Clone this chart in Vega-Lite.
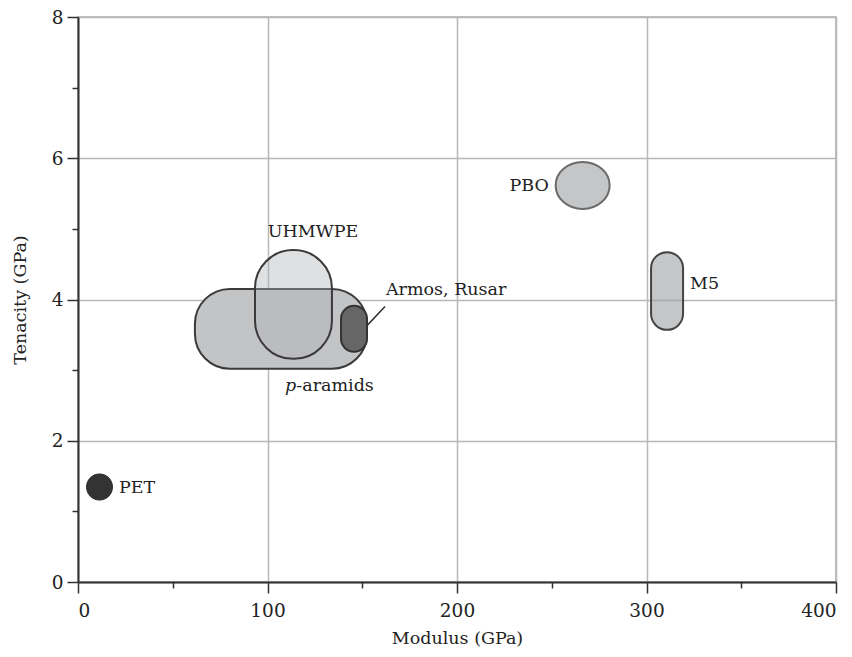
{
  "$schema": "https://vega.github.io/schema/vega-lite/v6.json",
  "width": 758,
  "height": 565,
  "autosize": {"type": "none"},
  "padding": {"left": 78, "top": 17, "right": 16, "bottom": 75},
  "config": {
    "view": {"stroke": "#aaaaaa", "strokeWidth": 1.5},
    "font": "DejaVu Serif",
    "text": {"font": "DejaVu Serif", "fontSize": 17.5, "fill": "#222222"}
  },
  "datasets": {
    "shapes": [
      {"name": "p-aramids", "x1": 61.7, "x2": 152.5, "y1": 3.02, "y2": 4.15},
      {"name": "UHMWPE", "x1": 93.4, "x2": 134, "y1": 3.16, "y2": 4.70},
      {"name": "Armos, Rusar", "x1": 138.8, "x2": 152.5, "y1": 3.26, "y2": 3.91},
      {"name": "M5", "x1": 302.4, "x2": 319.3, "y1": 3.57, "y2": 4.67},
      {"name": "PET", "x1": 4.5, "x2": 18.2, "y1": 1.16, "y2": 1.53}
    ],
    "ellipses": [
      {"name": "PBO", "x": 266.3, "y": 5.615}
    ],
    "labels": [
      {"text": "UHMWPE", "x": 124, "y": 4.96, "group": "center"},
      {"text": "Armos, Rusar", "x": 162.5, "y": 4.14, "group": "left"},
      {"text": "-aramids", "x": 115.2, "y": 2.78, "group": "left"},
      {"text": "p", "x": 115.2, "y": 2.78, "group": "italic"},
      {"text": "PBO", "x": 248.5, "y": 5.61, "group": "right"},
      {"text": "M5", "x": 323, "y": 4.22, "group": "left"},
      {"text": "PET", "x": 21.6, "y": 1.33, "group": "left"}
    ],
    "leader": [
      {"x1": 152.5, "y1": 3.63, "x2": 162, "y2": 3.9}
    ]
  },
  "resolve": {"axis": {"x": "independent", "y": "independent"}},
  "layer": [
    {
      "data": {"name": "shapes"},
      "transform": [{"filter": "datum.name === 'p-aramids'"}],
      "mark": {"type": "rect", "cornerRadius": 35, "fill": "#c3c4c6", "stroke": "#3a3a3a", "strokeWidth": 2},
      "encoding": {
        "x": {
          "field": "x1", "type": "quantitative",
          "scale": {"domain": [0, 400], "nice": false},
          "axis": {
            "title": "Modulus (GPa)", "values": [0, 100, 200, 300, 400], "orient": "bottom",
            "grid": true, "gridColor": "#b8b8b8", "gridWidth": 1.5,
            "domainColor": "#333333", "domainWidth": 2,
            "tickColor": "#333333", "tickWidth": 1.5, "tickSize": 11,
            "labelFontSize": 18.5, "labelColor": "#222222", "labelPadding": 8, "labelFont": "DejaVu Serif",
            "titleFontSize": 17.5, "titleFontWeight": "normal", "titleColor": "#222222", "titlePadding": 10, "titleFont": "DejaVu Serif"
          }
        },
        "x2": {"field": "x2"},
        "y": {
          "field": "y1", "type": "quantitative",
          "scale": {"domain": [0, 8], "nice": false},
          "axis": {
            "title": "Tenacity (GPa)", "values": [0, 2, 4, 6, 8], "orient": "left",
            "grid": true, "gridColor": "#b8b8b8", "gridWidth": 1.5,
            "domainColor": "#333333", "domainWidth": 2,
            "tickColor": "#333333", "tickWidth": 1.5, "tickSize": 11,
            "labelFontSize": 18.5, "labelColor": "#222222", "labelPadding": 4, "labelFont": "DejaVu Serif",
            "titleFontSize": 17.5, "titleFontWeight": "normal", "titleColor": "#222222", "titlePadding": 22, "titleFont": "DejaVu Serif"
          }
        },
        "y2": {"field": "y2"}
      }
    },
    {
      "data": {"name": "shapes"},
      "transform": [{"filter": "datum.name === 'UHMWPE'"}],
      "mark": {"type": "rect", "cornerRadius": 38, "fill": "#b0b1b4", "fillOpacity": 0.4, "stroke": "#3a3a3a", "strokeWidth": 2},
      "encoding": {
        "x": {
          "field": "x1", "type": "quantitative",
          "axis": {
            "title": null, "values": [50, 150, 250, 350], "orient": "bottom",
            "grid": false, "domain": false, "labels": false,
            "tickColor": "#333333", "tickWidth": 1.5, "tickSize": 6
          }
        },
        "x2": {"field": "x2"},
        "y": {
          "field": "y1", "type": "quantitative",
          "axis": {
            "title": null, "values": [1, 3, 5, 7], "orient": "left",
            "grid": false, "domain": false, "labels": false,
            "tickColor": "#333333", "tickWidth": 1.5, "tickSize": 6
          }
        },
        "y2": {"field": "y2"}
      }
    },
    {
      "data": {"name": "shapes"},
      "transform": [{"filter": "datum.name === 'Armos, Rusar'"}],
      "mark": {"type": "rect", "cornerRadius": 13, "fill": "#666666", "stroke": "#333333", "strokeWidth": 2},
      "encoding": {
        "x": {"field": "x1", "type": "quantitative", "axis": null},
        "x2": {"field": "x2"},
        "y": {"field": "y1", "type": "quantitative", "axis": null},
        "y2": {"field": "y2"}
      }
    },
    {
      "data": {"name": "ellipses"},
      "mark": {"type": "point", "filled": true, "shape": "M-1,0A1,0.87,0,1,0,1,0A1,0.87,0,1,0,-1,0Z", "size": 2916, "fill": "#9fa0a3", "fillOpacity": 0.6, "stroke": "#6a6a6a", "strokeWidth": 2, "opacity": 1},
      "encoding": {
        "x": {"field": "x", "type": "quantitative", "axis": null},
        "y": {"field": "y", "type": "quantitative", "axis": null}
      }
    },
    {
      "data": {"name": "shapes"},
      "transform": [{"filter": "datum.name === 'M5'"}],
      "mark": {"type": "rect", "cornerRadius": 16, "fill": "#9fa0a3", "fillOpacity": 0.6, "stroke": "#444444", "strokeWidth": 2},
      "encoding": {
        "x": {"field": "x1", "type": "quantitative", "axis": null},
        "x2": {"field": "x2"},
        "y": {"field": "y1", "type": "quantitative", "axis": null},
        "y2": {"field": "y2"}
      }
    },
    {
      "data": {"name": "shapes"},
      "transform": [{"filter": "datum.name === 'PET'"}],
      "mark": {"type": "rect", "cornerRadius": 13, "fill": "#333333", "stroke": "#2a2a2a", "strokeWidth": 1},
      "encoding": {
        "x": {"field": "x1", "type": "quantitative", "axis": null},
        "x2": {"field": "x2"},
        "y": {"field": "y1", "type": "quantitative", "axis": null},
        "y2": {"field": "y2"}
      }
    },
    {
      "data": {"name": "leader"},
      "mark": {"type": "rule", "stroke": "#333333", "strokeWidth": 1.5},
      "encoding": {
        "x": {"field": "x1", "type": "quantitative", "axis": null},
        "x2": {"field": "x2"},
        "y": {"field": "y1", "type": "quantitative", "axis": null},
        "y2": {"field": "y2"}
      }
    },
    {
      "mark": {"type": "rule", "stroke": "#444444", "strokeWidth": 2},
      "encoding": {
        "y": {"datum": 8, "type": "quantitative", "axis": null}
      }
    },
    {
      "data": {"name": "labels"},
      "transform": [{"filter": "datum.group === 'left'"}],
      "mark": {"type": "text", "align": "left", "baseline": "middle"},
      "encoding": {
        "x": {"field": "x", "type": "quantitative", "axis": null},
        "y": {"field": "y", "type": "quantitative", "axis": null},
        "text": {"field": "text"}
      }
    },
    {
      "data": {"name": "labels"},
      "transform": [{"filter": "datum.group === 'center'"}],
      "mark": {"type": "text", "align": "center", "baseline": "middle"},
      "encoding": {
        "x": {"field": "x", "type": "quantitative", "axis": null},
        "y": {"field": "y", "type": "quantitative", "axis": null},
        "text": {"field": "text"}
      }
    },
    {
      "data": {"name": "labels"},
      "transform": [{"filter": "datum.group === 'right'"}],
      "mark": {"type": "text", "align": "right", "baseline": "middle"},
      "encoding": {
        "x": {"field": "x", "type": "quantitative", "axis": null},
        "y": {"field": "y", "type": "quantitative", "axis": null},
        "text": {"field": "text"}
      }
    },
    {
      "data": {"name": "labels"},
      "transform": [{"filter": "datum.group === 'italic'"}],
      "mark": {"type": "text", "align": "right", "baseline": "middle", "fontStyle": "italic"},
      "encoding": {
        "x": {"field": "x", "type": "quantitative", "axis": null},
        "y": {"field": "y", "type": "quantitative", "axis": null},
        "text": {"field": "text"}
      }
    }
  ]
}
